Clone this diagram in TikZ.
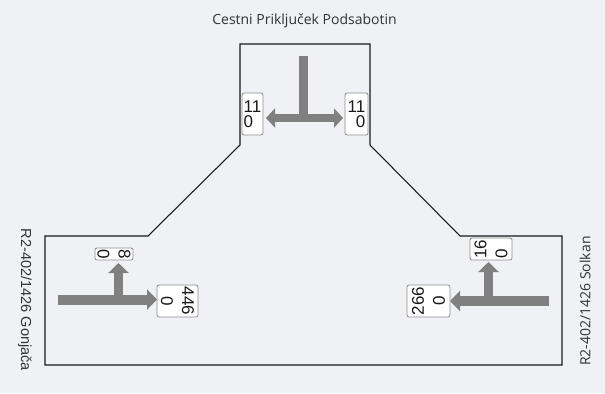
\documentclass[tikz,border=0pt]{standalone}
\usepackage{fontspec}
\setmainfont{Liberation Sans}
\newfontfamily\uifont{Open Sans}
\usetikzlibrary{arrows.meta}

\definecolor{bg}{RGB}{239,241,244}
\definecolor{flowgray}{RGB}{128,128,128}
\definecolor{boxedge}{RGB}{140,140,140}
\definecolor{ink}{RGB}{51,51,51}

\begin{document}
\begin{tikzpicture}[x=0.75pt,y=-0.75pt,
  outline/.style={draw=black!90, line width=0.8pt, line join=miter},
  stem/.style={draw=flowgray, line width=6.75pt},
  bigtip/.tip={Triangle[length=7.5pt,width=15pt]},
  smalltip/.tip={Triangle[length=6.75pt,width=14.25pt]},
  flow/.style={draw=flowgray, line width=7.5pt, -bigtip},
  topflow/.style={draw=flowgray, line width=5.6pt, smalltip-smalltip},
  numbox/.style={draw=boxedge, fill=white, line width=0.6pt, rounded corners=1.5pt,
    inner sep=0.5pt, text=black!90, font=\fontsize{12.75}{11.25}\selectfont},
  numboxwide/.style={numbox, font=\fontsize{12.75}{15.75}\selectfont},
  title/.style={text=ink, font=\uifont\fontsize{10.5}{12}\selectfont},
]
\useasboundingbox (0,0) rectangle (605,393);
\fill[bg] (0,0) rectangle (605,393);

% junction outline
\draw[outline] (240,44) -- (370,44) -- (370,145) -- (460,236) -- (562,236)
  -- (562,365) -- (45,365) -- (45,236) -- (148,236) -- (240,145) -- cycle;

% approach names
\node[title] (north) at (304.5,21) {Cestni Priključek Podsabotin};
\node[text=ink, font=\fontsize{10.9}{12}\selectfont, rotate=-90] (west) at (25,300) {R2-402/1426 Gonjača};
\node[title, rotate=90] (east) at (585,301) {R2-402/1426 Solkan};

% north approach
\coordinate (nStemTop) at (303.5,56);
\coordinate (nJoin) at (303.5,118);
\coordinate (nTipL) at (266,118);
\coordinate (nTipR) at (343,118);
\draw[stem] (nStemTop) -- (nJoin);
\draw[topflow] (nTipL) -- (nTipR);
\node[numbox, minimum width=15.75pt, minimum height=31.5pt, align=left] (nLeft) at (252.5,114) {11\\0};
\node[numbox, minimum width=17.25pt, minimum height=31.5pt, align=right] (nRight) at (356.5,114) {11\\0};

% west approach
\coordinate (wStart) at (58,299.5);
\coordinate (wJoin) at (118.5,299.5);
\coordinate (wTip) at (157,299.5);
\coordinate (wUp) at (118.5,263);
\draw[stem, -bigtip] (wJoin) -- (wUp);
\draw[flow] (wStart) -- (wTip);
\node[numboxwide, rotate=-90, minimum width=9pt, minimum height=28.5pt, inner sep=0.3pt, align=left] (wLeft) at (114,254) {8\\0};
\node[numboxwide, rotate=-90, minimum width=24pt, minimum height=30.75pt, align=center] (wAhead) at (177.5,301) {446\\0};

% east approach
\coordinate (eStart) at (549,301);
\coordinate (eJoin) at (488.5,301);
\coordinate (eTip) at (450,301);
\coordinate (eUp) at (488.5,262);
\draw[stem, -bigtip] (eJoin) -- (eUp);
\draw[flow] (eStart) -- (eTip);
\node[numboxwide, rotate=90, minimum width=16.5pt, minimum height=31.5pt, align=left] (eRight) at (491,249) {16\\0};
\node[numboxwide, rotate=90, minimum width=24pt, minimum height=32.25pt, align=center] (eAhead) at (428.5,301) {266\\0};
\end{tikzpicture}
\end{document}
